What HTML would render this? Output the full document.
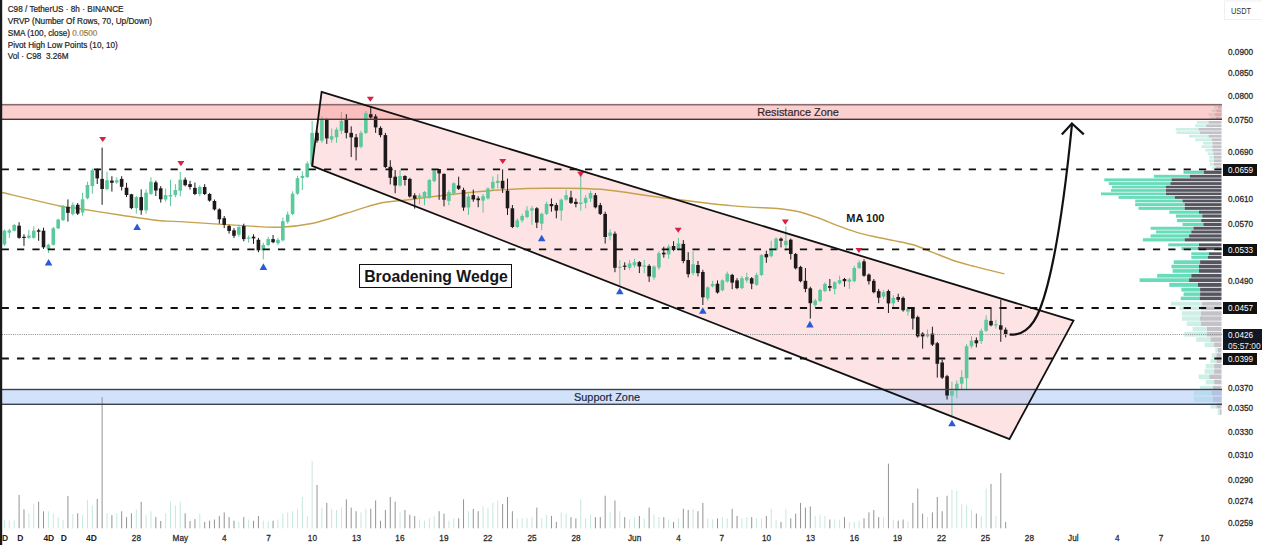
<!DOCTYPE html>
<html><head><meta charset="utf-8"><style>
html,body{margin:0;padding:0;background:#fff;}
body{width:1262px;height:545px;position:relative;overflow:hidden;font-family:"Liberation Sans",sans-serif;}
</style></head><body>
<svg width="1262" height="545" viewBox="0 0 1262 545" style="position:absolute;left:0;top:0">
<defs><clipPath id="cc"><rect x="0" y="0" width="1222" height="528"/></clipPath></defs>
<rect x="0" y="0" width="1262" height="545" fill="#fff"/>
<rect x="1214" y="105.5" width="4" height="3.1" fill="#cdf0e6"/>
<rect x="1218" y="105.5" width="3.5" height="3.1" fill="#c2c2c8"/>
<rect x="1211.6" y="109.35" width="4.7" height="3" fill="#cdf0e6"/>
<rect x="1216.3" y="109.35" width="5.2" height="3" fill="#c2c2c8"/>
<rect x="1208.5" y="113.15" width="6.2" height="2.8" fill="#cdf0e6"/>
<rect x="1214.7" y="113.15" width="6.8" height="2.8" fill="#c2c2c8"/>
<rect x="1210" y="116.65" width="6" height="2.8" fill="#cdf0e6"/>
<rect x="1216" y="116.65" width="5.5" height="2.8" fill="#c2c2c8"/>
<rect x="1196.8" y="121" width="11.7" height="2.7" fill="#cdf0e6"/>
<rect x="1208.5" y="121" width="13" height="2.7" fill="#c2c2c8"/>
<rect x="1195.2" y="124.4" width="11" height="2.7" fill="#cdf0e6"/>
<rect x="1206.2" y="124.4" width="15.3" height="2.7" fill="#c2c2c8"/>
<rect x="1175.7" y="127.9" width="22.7" height="2.7" fill="#cdf0e6"/>
<rect x="1198.4" y="127.9" width="23.1" height="2.7" fill="#c2c2c8"/>
<rect x="1176.5" y="131.3" width="23.5" height="2.7" fill="#cdf0e6"/>
<rect x="1200" y="131.3" width="21.5" height="2.7" fill="#c2c2c8"/>
<rect x="1189" y="134.75" width="19.5" height="2.8" fill="#cdf0e6"/>
<rect x="1208.5" y="134.75" width="13" height="2.8" fill="#c2c2c8"/>
<rect x="1195.2" y="138.35" width="16.4" height="2.8" fill="#cdf0e6"/>
<rect x="1211.6" y="138.35" width="9.9" height="2.8" fill="#c2c2c8"/>
<rect x="1203" y="141.9" width="9.4" height="2.7" fill="#cdf0e6"/>
<rect x="1212.4" y="141.9" width="9.1" height="2.7" fill="#c2c2c8"/>
<rect x="1201.5" y="145.3" width="10.9" height="2.7" fill="#cdf0e6"/>
<rect x="1212.4" y="145.3" width="9.1" height="2.7" fill="#c2c2c8"/>
<rect x="1205.4" y="148.75" width="7" height="2.8" fill="#cdf0e6"/>
<rect x="1212.4" y="148.75" width="9.1" height="2.8" fill="#c2c2c8"/>
<rect x="1207.7" y="152.35" width="5.5" height="2.8" fill="#cdf0e6"/>
<rect x="1213.2" y="152.35" width="8.3" height="2.8" fill="#c2c2c8"/>
<rect x="1209.3" y="155.85" width="4.7" height="2.8" fill="#cdf0e6"/>
<rect x="1214" y="155.85" width="7.5" height="2.8" fill="#c2c2c8"/>
<rect x="1209.3" y="159.35" width="4.7" height="2.8" fill="#cdf0e6"/>
<rect x="1214" y="159.35" width="7.5" height="2.8" fill="#c2c2c8"/>
<rect x="1210" y="162.85" width="4" height="2.8" fill="#cdf0e6"/>
<rect x="1214" y="162.85" width="7.5" height="2.8" fill="#c2c2c8"/>
<rect x="1212.4" y="166.4" width="3.1" height="2.9" fill="#cdf0e6"/>
<rect x="1215.5" y="166.4" width="6" height="2.9" fill="#c2c2c8"/>
<rect x="1183.5" y="170.6" width="20.3" height="3.3" fill="#66dcb8"/>
<rect x="1203.8" y="170.6" width="17.7" height="3.3" fill="#55555f"/>
<rect x="1153.9" y="174.8" width="35.9" height="2.9" fill="#66dcb8"/>
<rect x="1189.8" y="174.8" width="31.7" height="2.9" fill="#55555f"/>
<rect x="1104.3" y="178.4" width="67.2" height="2.9" fill="#66dcb8"/>
<rect x="1171.5" y="178.4" width="50" height="2.9" fill="#55555f"/>
<rect x="1108.7" y="182.15" width="61.7" height="2.8" fill="#66dcb8"/>
<rect x="1170.4" y="182.15" width="51.1" height="2.8" fill="#55555f"/>
<rect x="1112" y="185.7" width="54" height="2.7" fill="#66dcb8"/>
<rect x="1166" y="185.7" width="55.5" height="2.7" fill="#55555f"/>
<rect x="1110.9" y="189.1" width="55.1" height="2.7" fill="#66dcb8"/>
<rect x="1166" y="189.1" width="55.5" height="2.7" fill="#55555f"/>
<rect x="1101" y="192.5" width="65" height="2.7" fill="#66dcb8"/>
<rect x="1166" y="192.5" width="55.5" height="2.7" fill="#55555f"/>
<rect x="1118.6" y="196.05" width="56.2" height="2.8" fill="#66dcb8"/>
<rect x="1174.8" y="196.05" width="46.7" height="2.8" fill="#55555f"/>
<rect x="1135.2" y="199.55" width="47.3" height="2.8" fill="#66dcb8"/>
<rect x="1182.5" y="199.55" width="39" height="2.8" fill="#55555f"/>
<rect x="1135.2" y="203.15" width="49.5" height="3" fill="#66dcb8"/>
<rect x="1184.7" y="203.15" width="36.8" height="3" fill="#55555f"/>
<rect x="1138.5" y="206.85" width="46.2" height="3" fill="#66dcb8"/>
<rect x="1184.7" y="206.85" width="36.8" height="3" fill="#55555f"/>
<rect x="1169.3" y="210.6" width="29.7" height="3.1" fill="#66dcb8"/>
<rect x="1199" y="210.6" width="22.5" height="3.1" fill="#55555f"/>
<rect x="1175.9" y="214.45" width="26.4" height="3.2" fill="#66dcb8"/>
<rect x="1202.3" y="214.45" width="19.2" height="3.2" fill="#55555f"/>
<rect x="1177" y="218.95" width="24.2" height="3.2" fill="#66dcb8"/>
<rect x="1201.2" y="218.95" width="20.3" height="3.2" fill="#55555f"/>
<rect x="1182.5" y="222.9" width="20.9" height="3.1" fill="#66dcb8"/>
<rect x="1203.4" y="222.9" width="18.1" height="3.1" fill="#55555f"/>
<rect x="1150.6" y="226.75" width="42.9" height="3" fill="#66dcb8"/>
<rect x="1193.5" y="226.75" width="28" height="3" fill="#55555f"/>
<rect x="1156.1" y="230.45" width="35.2" height="3" fill="#66dcb8"/>
<rect x="1191.3" y="230.45" width="30.2" height="3" fill="#55555f"/>
<rect x="1150.6" y="234.35" width="38.5" height="3.2" fill="#66dcb8"/>
<rect x="1189.1" y="234.35" width="32.4" height="3.2" fill="#55555f"/>
<rect x="1142.9" y="238.25" width="41.8" height="3.2" fill="#66dcb8"/>
<rect x="1184.7" y="238.25" width="36.8" height="3.2" fill="#55555f"/>
<rect x="1168.2" y="243.35" width="30.8" height="3" fill="#66dcb8"/>
<rect x="1199" y="243.35" width="22.5" height="3" fill="#55555f"/>
<rect x="1181.4" y="247.05" width="16.5" height="3" fill="#66dcb8"/>
<rect x="1197.9" y="247.05" width="23.6" height="3" fill="#55555f"/>
<rect x="1191.3" y="252.3" width="17.6" height="2.9" fill="#66dcb8"/>
<rect x="1208.9" y="252.3" width="12.6" height="2.9" fill="#55555f"/>
<rect x="1191.3" y="255.9" width="16.5" height="2.9" fill="#66dcb8"/>
<rect x="1207.8" y="255.9" width="13.7" height="2.9" fill="#55555f"/>
<rect x="1173.7" y="260.3" width="26.4" height="3.7" fill="#66dcb8"/>
<rect x="1200.1" y="260.3" width="21.4" height="3.7" fill="#55555f"/>
<rect x="1171.5" y="264.7" width="27.5" height="3.7" fill="#66dcb8"/>
<rect x="1199" y="264.7" width="22.5" height="3.7" fill="#55555f"/>
<rect x="1172.6" y="269.1" width="26.4" height="3.7" fill="#66dcb8"/>
<rect x="1199" y="269.1" width="22.5" height="3.7" fill="#55555f"/>
<rect x="1157.2" y="273.9" width="34.1" height="3.7" fill="#66dcb8"/>
<rect x="1191.3" y="273.9" width="30.2" height="3.7" fill="#55555f"/>
<rect x="1139.6" y="278.3" width="49.5" height="3.7" fill="#66dcb8"/>
<rect x="1189.1" y="278.3" width="32.4" height="3.7" fill="#55555f"/>
<rect x="1169.3" y="282.85" width="28.6" height="4" fill="#66dcb8"/>
<rect x="1197.9" y="282.85" width="23.6" height="4" fill="#55555f"/>
<rect x="1181.4" y="287.75" width="18.7" height="3.8" fill="#66dcb8"/>
<rect x="1200.1" y="287.75" width="21.4" height="3.8" fill="#55555f"/>
<rect x="1183.6" y="292.4" width="16.5" height="3.5" fill="#66dcb8"/>
<rect x="1200.1" y="292.4" width="21.4" height="3.5" fill="#55555f"/>
<rect x="1180.7" y="296.6" width="19.1" height="3.5" fill="#66dcb8"/>
<rect x="1199.8" y="296.6" width="21.7" height="3.5" fill="#55555f"/>
<rect x="1171" y="301.85" width="31" height="3.8" fill="#cdf0e6"/>
<rect x="1202" y="301.85" width="19.5" height="3.8" fill="#c2c2c8"/>
<rect x="1179.5" y="306.35" width="21.5" height="3.8" fill="#cdf0e6"/>
<rect x="1201" y="306.35" width="20.5" height="3.8" fill="#c2c2c8"/>
<rect x="1181.9" y="311.25" width="19.1" height="4.4" fill="#cdf0e6"/>
<rect x="1201" y="311.25" width="20.5" height="4.4" fill="#c2c2c8"/>
<rect x="1181.9" y="316.35" width="17.9" height="4.4" fill="#cdf0e6"/>
<rect x="1199.8" y="316.35" width="21.7" height="4.4" fill="#c2c2c8"/>
<rect x="1186.7" y="321.5" width="14.3" height="4.5" fill="#cdf0e6"/>
<rect x="1201" y="321.5" width="20.5" height="4.5" fill="#c2c2c8"/>
<rect x="1192.6" y="326.8" width="14.3" height="4.5" fill="#cdf0e6"/>
<rect x="1206.9" y="326.8" width="14.6" height="4.5" fill="#c2c2c8"/>
<rect x="1184.3" y="332" width="22.6" height="4.5" fill="#cdf0e6"/>
<rect x="1206.9" y="332" width="14.6" height="4.5" fill="#c2c2c8"/>
<rect x="1196.2" y="337.25" width="14.3" height="4.6" fill="#cdf0e6"/>
<rect x="1210.5" y="337.25" width="11" height="4.6" fill="#c2c2c8"/>
<rect x="1204.6" y="342.55" width="9.5" height="4.6" fill="#cdf0e6"/>
<rect x="1214.1" y="342.55" width="7.4" height="4.6" fill="#c2c2c8"/>
<rect x="1215.3" y="347.95" width="2.4" height="4.6" fill="#cdf0e6"/>
<rect x="1217.7" y="347.95" width="3.8" height="4.6" fill="#c2c2c8"/>
<rect x="1211.7" y="353.25" width="4.8" height="4.6" fill="#cdf0e6"/>
<rect x="1216.5" y="353.25" width="5" height="4.6" fill="#c2c2c8"/>
<rect x="1210.5" y="358.55" width="6" height="4.6" fill="#cdf0e6"/>
<rect x="1216.5" y="358.55" width="5" height="4.6" fill="#c2c2c8"/>
<rect x="1205.7" y="363.95" width="8.4" height="4.6" fill="#cdf0e6"/>
<rect x="1214.1" y="363.95" width="7.4" height="4.6" fill="#c2c2c8"/>
<rect x="1204.6" y="369.3" width="9.5" height="4.5" fill="#cdf0e6"/>
<rect x="1214.1" y="369.3" width="7.4" height="4.5" fill="#c2c2c8"/>
<rect x="1198.6" y="374.5" width="10.7" height="4.5" fill="#cdf0e6"/>
<rect x="1209.3" y="374.5" width="12.2" height="4.5" fill="#c2c2c8"/>
<rect x="1205.7" y="379.75" width="8.4" height="4.6" fill="#cdf0e6"/>
<rect x="1214.1" y="379.75" width="7.4" height="4.6" fill="#c2c2c8"/>
<rect x="1200" y="385.8" width="13" height="4.5" fill="#cdf0e6"/>
<rect x="1213" y="385.8" width="8.5" height="4.5" fill="#c2c2c8"/>
<rect x="1193.8" y="391" width="17.9" height="4.5" fill="#cdf0e6"/>
<rect x="1211.7" y="391" width="9.8" height="4.5" fill="#c2c2c8"/>
<rect x="1193.8" y="396.6" width="19.1" height="5.3" fill="#cdf0e6"/>
<rect x="1212.9" y="396.6" width="8.6" height="5.3" fill="#c2c2c8"/>
<rect x="1210.5" y="402.8" width="6" height="5.7" fill="#cdf0e6"/>
<rect x="1216.5" y="402.8" width="5" height="5.7" fill="#c2c2c8"/>
<rect x="1217.7" y="409.2" width="2.3" height="5.7" fill="#cdf0e6"/>
<rect x="1220" y="409.2" width="1.5" height="5.7" fill="#c2c2c8"/>
<polygon points="321.6,91.8 1073.5,320.6 1009.5,439 312.1,165.9" fill="rgba(240,70,70,0.15)"/>
<rect x="0" y="104.5" width="1222" height="14.8" fill="rgba(247,135,135,0.4)"/>
<rect x="0" y="389.5" width="1222" height="14.8" fill="rgba(165,197,247,0.5)"/>
<rect x="3.94" y="520.3" width="1" height="8" fill="#c6e8de"/>
<rect x="8.82" y="520.3" width="1" height="8" fill="#c6e8de"/>
<rect x="13.71" y="520.3" width="1" height="8" fill="#c6e8de"/>
<rect x="18.59" y="494.97" width="1" height="33.33" fill="#949494"/>
<rect x="23.48" y="509.42" width="1" height="18.88" fill="#949494"/>
<rect x="28.36" y="513.27" width="1" height="15.03" fill="#c6e8de"/>
<rect x="33.24" y="503.64" width="1" height="24.66" fill="#c6e8de"/>
<rect x="38.13" y="501.71" width="1" height="26.59" fill="#949494"/>
<rect x="43.01" y="511.34" width="1" height="16.96" fill="#949494"/>
<rect x="47.9" y="511.34" width="1" height="16.96" fill="#c6e8de"/>
<rect x="52.78" y="513.27" width="1" height="15.03" fill="#c6e8de"/>
<rect x="57.66" y="517.12" width="1" height="11.18" fill="#c6e8de"/>
<rect x="62.55" y="520.3" width="1" height="8" fill="#c6e8de"/>
<rect x="67.43" y="495.93" width="1" height="32.37" fill="#949494"/>
<rect x="72.32" y="514.23" width="1" height="14.07" fill="#c6e8de"/>
<rect x="77.2" y="513.27" width="1" height="15.03" fill="#949494"/>
<rect x="82.08" y="515.2" width="1" height="13.1" fill="#c6e8de"/>
<rect x="86.97" y="499.78" width="1" height="28.52" fill="#c6e8de"/>
<rect x="91.85" y="505.56" width="1" height="22.74" fill="#c6e8de"/>
<rect x="96.74" y="498.82" width="1" height="29.48" fill="#949494"/>
<rect x="101.62" y="397.1" width="1" height="131.2" fill="#949494"/>
<rect x="106.5" y="513.27" width="1" height="15.03" fill="#c6e8de"/>
<rect x="111.39" y="515.2" width="1" height="13.1" fill="#949494"/>
<rect x="116.27" y="513.27" width="1" height="15.03" fill="#c6e8de"/>
<rect x="121.16" y="511.34" width="1" height="16.96" fill="#949494"/>
<rect x="126.04" y="517.12" width="1" height="11.18" fill="#949494"/>
<rect x="130.92" y="513.27" width="1" height="15.03" fill="#949494"/>
<rect x="135.81" y="509.42" width="1" height="18.88" fill="#c6e8de"/>
<rect x="140.69" y="501.71" width="1" height="26.59" fill="#949494"/>
<rect x="145.58" y="515.2" width="1" height="13.1" fill="#c6e8de"/>
<rect x="150.46" y="511.34" width="1" height="16.96" fill="#c6e8de"/>
<rect x="155.34" y="517.12" width="1" height="11.18" fill="#949494"/>
<rect x="160.23" y="520.98" width="1" height="7.32" fill="#949494"/>
<rect x="165.11" y="513.27" width="1" height="15.03" fill="#c6e8de"/>
<rect x="170" y="501.71" width="1" height="26.59" fill="#c6e8de"/>
<rect x="174.88" y="505.56" width="1" height="22.74" fill="#c6e8de"/>
<rect x="179.76" y="501.71" width="1" height="26.59" fill="#c6e8de"/>
<rect x="184.65" y="513.27" width="1" height="15.03" fill="#949494"/>
<rect x="189.53" y="520.98" width="1" height="7.32" fill="#949494"/>
<rect x="194.42" y="519.05" width="1" height="9.25" fill="#949494"/>
<rect x="199.3" y="513.56" width="1" height="14.74" fill="#c6e8de"/>
<rect x="204.18" y="521.88" width="1" height="6.42" fill="#949494"/>
<rect x="209.07" y="520.69" width="1" height="7.61" fill="#949494"/>
<rect x="213.95" y="519.51" width="1" height="8.79" fill="#949494"/>
<rect x="218.84" y="515.94" width="1" height="12.36" fill="#949494"/>
<rect x="223.72" y="512.37" width="1" height="15.93" fill="#949494"/>
<rect x="228.6" y="517.13" width="1" height="11.17" fill="#949494"/>
<rect x="233.49" y="520.69" width="1" height="7.61" fill="#949494"/>
<rect x="238.37" y="521.88" width="1" height="6.42" fill="#c6e8de"/>
<rect x="243.26" y="517.13" width="1" height="11.17" fill="#949494"/>
<rect x="248.14" y="519.51" width="1" height="8.79" fill="#c6e8de"/>
<rect x="253.02" y="520.69" width="1" height="7.61" fill="#949494"/>
<rect x="257.91" y="515.94" width="1" height="12.36" fill="#949494"/>
<rect x="262.79" y="520.69" width="1" height="7.61" fill="#c6e8de"/>
<rect x="267.68" y="521.88" width="1" height="6.42" fill="#c6e8de"/>
<rect x="272.56" y="520.69" width="1" height="7.61" fill="#949494"/>
<rect x="277.44" y="519.51" width="1" height="8.79" fill="#c6e8de"/>
<rect x="282.33" y="513.56" width="1" height="14.74" fill="#c6e8de"/>
<rect x="287.21" y="512.37" width="1" height="15.93" fill="#c6e8de"/>
<rect x="292.1" y="511.19" width="1" height="17.11" fill="#c6e8de"/>
<rect x="296.98" y="508.81" width="1" height="19.49" fill="#c6e8de"/>
<rect x="301.86" y="496.92" width="1" height="31.38" fill="#c6e8de"/>
<rect x="306.75" y="515.94" width="1" height="12.36" fill="#c6e8de"/>
<rect x="311.63" y="460.79" width="1" height="67.51" fill="#c6e8de"/>
<rect x="316.52" y="485.04" width="1" height="43.26" fill="#949494"/>
<rect x="321.4" y="507.62" width="1" height="20.68" fill="#c6e8de"/>
<rect x="326.28" y="502.87" width="1" height="25.43" fill="#949494"/>
<rect x="331.17" y="508.81" width="1" height="19.49" fill="#c6e8de"/>
<rect x="336.05" y="510" width="1" height="18.3" fill="#c6e8de"/>
<rect x="340.94" y="507.62" width="1" height="20.68" fill="#c6e8de"/>
<rect x="345.82" y="499.3" width="1" height="29" fill="#949494"/>
<rect x="350.7" y="507.62" width="1" height="20.68" fill="#949494"/>
<rect x="355.59" y="511.19" width="1" height="17.11" fill="#949494"/>
<rect x="360.47" y="512.37" width="1" height="15.93" fill="#c6e8de"/>
<rect x="365.36" y="508.81" width="1" height="19.49" fill="#c6e8de"/>
<rect x="370.24" y="508.81" width="1" height="19.49" fill="#949494"/>
<rect x="375.12" y="500.49" width="1" height="27.81" fill="#949494"/>
<rect x="380.01" y="520.69" width="1" height="7.61" fill="#949494"/>
<rect x="384.89" y="510" width="1" height="18.3" fill="#949494"/>
<rect x="389.78" y="496.92" width="1" height="31.38" fill="#949494"/>
<rect x="394.66" y="501.68" width="1" height="26.62" fill="#949494"/>
<rect x="399.54" y="512.37" width="1" height="15.93" fill="#c6e8de"/>
<rect x="404.43" y="510" width="1" height="18.3" fill="#949494"/>
<rect x="409.31" y="514.75" width="1" height="13.55" fill="#949494"/>
<rect x="414.2" y="515.94" width="1" height="12.36" fill="#949494"/>
<rect x="419.08" y="519.51" width="1" height="8.79" fill="#c6e8de"/>
<rect x="423.96" y="520.69" width="1" height="7.61" fill="#c6e8de"/>
<rect x="428.85" y="518.32" width="1" height="9.98" fill="#c6e8de"/>
<rect x="433.73" y="515.94" width="1" height="12.36" fill="#c6e8de"/>
<rect x="438.62" y="511.19" width="1" height="17.11" fill="#949494"/>
<rect x="443.5" y="513.56" width="1" height="14.74" fill="#949494"/>
<rect x="448.38" y="520.69" width="1" height="7.61" fill="#c6e8de"/>
<rect x="453.27" y="518.32" width="1" height="9.98" fill="#c6e8de"/>
<rect x="458.15" y="518.32" width="1" height="9.98" fill="#949494"/>
<rect x="463.04" y="499.3" width="1" height="29" fill="#949494"/>
<rect x="467.92" y="511.19" width="1" height="17.11" fill="#c6e8de"/>
<rect x="472.8" y="508.81" width="1" height="19.49" fill="#949494"/>
<rect x="477.69" y="511.19" width="1" height="17.11" fill="#949494"/>
<rect x="482.57" y="506.43" width="1" height="21.87" fill="#c6e8de"/>
<rect x="487.46" y="507.62" width="1" height="20.68" fill="#c6e8de"/>
<rect x="492.34" y="502.87" width="1" height="25.43" fill="#c6e8de"/>
<rect x="497.22" y="500.49" width="1" height="27.81" fill="#c6e8de"/>
<rect x="502.11" y="504.05" width="1" height="24.25" fill="#949494"/>
<rect x="506.99" y="496.92" width="1" height="31.38" fill="#949494"/>
<rect x="511.88" y="511.19" width="1" height="17.11" fill="#949494"/>
<rect x="516.76" y="518.32" width="1" height="9.98" fill="#c6e8de"/>
<rect x="521.64" y="518.32" width="1" height="9.98" fill="#c6e8de"/>
<rect x="526.53" y="518.32" width="1" height="9.98" fill="#c6e8de"/>
<rect x="531.41" y="517.13" width="1" height="11.17" fill="#c6e8de"/>
<rect x="536.3" y="507.62" width="1" height="20.68" fill="#949494"/>
<rect x="541.18" y="518.32" width="1" height="9.98" fill="#c6e8de"/>
<rect x="546.06" y="514.75" width="1" height="13.55" fill="#c6e8de"/>
<rect x="550.95" y="515.94" width="1" height="12.36" fill="#949494"/>
<rect x="555.83" y="521.88" width="1" height="6.42" fill="#949494"/>
<rect x="560.72" y="512.37" width="1" height="15.93" fill="#c6e8de"/>
<rect x="565.6" y="513.56" width="1" height="14.74" fill="#c6e8de"/>
<rect x="570.48" y="517.13" width="1" height="11.17" fill="#949494"/>
<rect x="575.37" y="518.32" width="1" height="9.98" fill="#949494"/>
<rect x="580.25" y="499.3" width="1" height="29" fill="#c6e8de"/>
<rect x="585.14" y="518.32" width="1" height="9.98" fill="#c6e8de"/>
<rect x="590.02" y="514.75" width="1" height="13.55" fill="#c6e8de"/>
<rect x="594.9" y="517.13" width="1" height="11.17" fill="#949494"/>
<rect x="599.79" y="517.13" width="1" height="11.17" fill="#949494"/>
<rect x="604.67" y="495.74" width="1" height="32.56" fill="#949494"/>
<rect x="609.56" y="512.37" width="1" height="15.93" fill="#c6e8de"/>
<rect x="614.44" y="500.49" width="1" height="27.81" fill="#949494"/>
<rect x="619.32" y="511.19" width="1" height="17.11" fill="#c6e8de"/>
<rect x="624.21" y="517.13" width="1" height="11.17" fill="#949494"/>
<rect x="629.09" y="519.51" width="1" height="8.79" fill="#c6e8de"/>
<rect x="633.98" y="517.13" width="1" height="11.17" fill="#c6e8de"/>
<rect x="638.86" y="515.94" width="1" height="12.36" fill="#949494"/>
<rect x="643.74" y="518.32" width="1" height="9.98" fill="#c6e8de"/>
<rect x="648.63" y="507.62" width="1" height="20.68" fill="#949494"/>
<rect x="653.51" y="514.75" width="1" height="13.55" fill="#c6e8de"/>
<rect x="658.4" y="517.13" width="1" height="11.17" fill="#c6e8de"/>
<rect x="663.28" y="517.13" width="1" height="11.17" fill="#949494"/>
<rect x="668.16" y="519.51" width="1" height="8.79" fill="#c6e8de"/>
<rect x="673.05" y="521.88" width="1" height="6.42" fill="#949494"/>
<rect x="677.93" y="518.32" width="1" height="9.98" fill="#c6e8de"/>
<rect x="682.82" y="508.81" width="1" height="19.49" fill="#949494"/>
<rect x="687.7" y="510" width="1" height="18.3" fill="#949494"/>
<rect x="692.58" y="508.81" width="1" height="19.49" fill="#c6e8de"/>
<rect x="697.47" y="511.19" width="1" height="17.11" fill="#949494"/>
<rect x="702.35" y="502.87" width="1" height="25.43" fill="#949494"/>
<rect x="707.24" y="518.32" width="1" height="9.98" fill="#c6e8de"/>
<rect x="712.12" y="519.51" width="1" height="8.79" fill="#c6e8de"/>
<rect x="717" y="518.32" width="1" height="9.98" fill="#949494"/>
<rect x="721.89" y="517.13" width="1" height="11.17" fill="#c6e8de"/>
<rect x="726.77" y="518.32" width="1" height="9.98" fill="#c6e8de"/>
<rect x="731.66" y="508.81" width="1" height="19.49" fill="#949494"/>
<rect x="736.54" y="515.94" width="1" height="12.36" fill="#949494"/>
<rect x="741.42" y="518.32" width="1" height="9.98" fill="#c6e8de"/>
<rect x="746.31" y="517.13" width="1" height="11.17" fill="#c6e8de"/>
<rect x="751.19" y="517.13" width="1" height="11.17" fill="#949494"/>
<rect x="756.08" y="518.32" width="1" height="9.98" fill="#c6e8de"/>
<rect x="760.96" y="518.32" width="1" height="9.98" fill="#c6e8de"/>
<rect x="765.84" y="515.94" width="1" height="12.36" fill="#949494"/>
<rect x="770.73" y="508.81" width="1" height="19.49" fill="#c6e8de"/>
<rect x="775.61" y="519.51" width="1" height="8.79" fill="#c6e8de"/>
<rect x="780.5" y="521.88" width="1" height="6.42" fill="#949494"/>
<rect x="785.38" y="508.81" width="1" height="19.49" fill="#c6e8de"/>
<rect x="790.26" y="518.32" width="1" height="9.98" fill="#949494"/>
<rect x="795.15" y="513.56" width="1" height="14.74" fill="#949494"/>
<rect x="800.03" y="502.87" width="1" height="25.43" fill="#949494"/>
<rect x="804.92" y="507.62" width="1" height="20.68" fill="#949494"/>
<rect x="809.8" y="506.43" width="1" height="21.87" fill="#949494"/>
<rect x="814.68" y="515.94" width="1" height="12.36" fill="#c6e8de"/>
<rect x="819.57" y="514.75" width="1" height="13.55" fill="#c6e8de"/>
<rect x="824.45" y="515.94" width="1" height="12.36" fill="#c6e8de"/>
<rect x="829.34" y="519.51" width="1" height="8.79" fill="#949494"/>
<rect x="834.22" y="519.51" width="1" height="8.79" fill="#c6e8de"/>
<rect x="839.1" y="519.51" width="1" height="8.79" fill="#c6e8de"/>
<rect x="843.99" y="517.13" width="1" height="11.17" fill="#949494"/>
<rect x="848.87" y="521.88" width="1" height="6.42" fill="#c6e8de"/>
<rect x="853.76" y="521.88" width="1" height="6.42" fill="#c6e8de"/>
<rect x="858.64" y="520.69" width="1" height="7.61" fill="#c6e8de"/>
<rect x="863.52" y="518.32" width="1" height="9.98" fill="#949494"/>
<rect x="868.41" y="512.37" width="1" height="15.93" fill="#949494"/>
<rect x="873.29" y="510" width="1" height="18.3" fill="#949494"/>
<rect x="878.18" y="517.13" width="1" height="11.17" fill="#949494"/>
<rect x="883.06" y="517.13" width="1" height="11.17" fill="#c6e8de"/>
<rect x="887.94" y="463.65" width="1" height="64.65" fill="#949494"/>
<rect x="892.83" y="519.51" width="1" height="8.79" fill="#c6e8de"/>
<rect x="897.71" y="520.69" width="1" height="7.61" fill="#949494"/>
<rect x="902.6" y="519.51" width="1" height="8.79" fill="#949494"/>
<rect x="907.48" y="521.88" width="1" height="6.42" fill="#c6e8de"/>
<rect x="912.36" y="502.87" width="1" height="25.43" fill="#949494"/>
<rect x="917.25" y="488.6" width="1" height="39.7" fill="#949494"/>
<rect x="922.13" y="513.56" width="1" height="14.74" fill="#949494"/>
<rect x="927.02" y="517.13" width="1" height="11.17" fill="#c6e8de"/>
<rect x="931.9" y="512.37" width="1" height="15.93" fill="#949494"/>
<rect x="936.78" y="496.92" width="1" height="31.38" fill="#949494"/>
<rect x="941.67" y="511.19" width="1" height="17.11" fill="#949494"/>
<rect x="946.55" y="495.74" width="1" height="32.56" fill="#949494"/>
<rect x="951.44" y="489.79" width="1" height="38.51" fill="#c6e8de"/>
<rect x="956.32" y="490.98" width="1" height="37.32" fill="#c6e8de"/>
<rect x="961.2" y="504.05" width="1" height="24.25" fill="#c6e8de"/>
<rect x="966.09" y="505.24" width="1" height="23.06" fill="#c6e8de"/>
<rect x="970.97" y="510" width="1" height="18.3" fill="#c6e8de"/>
<rect x="975.86" y="513.56" width="1" height="14.74" fill="#949494"/>
<rect x="980.74" y="515.94" width="1" height="12.36" fill="#c6e8de"/>
<rect x="985.62" y="488.6" width="1" height="39.7" fill="#c6e8de"/>
<rect x="990.51" y="483.85" width="1" height="44.45" fill="#949494"/>
<rect x="995.39" y="515.94" width="1" height="12.36" fill="#c6e8de"/>
<rect x="1000.28" y="473.15" width="1" height="55.15" fill="#949494"/>
<rect x="1005.16" y="521.88" width="1" height="6.42" fill="#949494"/>
<path d="M0,192 C10,194.33 47.5,203.33 60,206 C72.5,208.67 65,206.5 75,208 C85,209.5 106.17,212.92 120,215 C133.83,217.08 148,219.4 158,220.5 C168,221.6 165.23,220.7 180,221.6 C194.77,222.5 229.97,224.97 246.6,225.9 C263.23,226.83 268.72,227.65 279.8,227.2 C290.88,226.75 302,225.52 313.1,223.2 C324.2,220.88 335.3,216.62 346.4,213.3 C357.5,209.98 369.72,205.52 379.7,203.3 C389.68,201.08 395.22,201.38 406.3,200 C417.38,198.62 430.67,196.67 446.2,195 C461.73,193.33 482.87,191.12 499.5,190 C516.13,188.88 529.25,188.42 546,188.3 C562.75,188.18 579.9,187.63 600,189.3 C620.1,190.97 644.43,195.53 666.6,198.3 C688.77,201.07 714.1,204.17 733,205.9 C751.9,207.63 769,207.73 780,208.7 C791,209.67 792.67,210.18 799,211.7 C805.33,213.22 811.67,215.52 818,217.8 C824.33,220.08 830.65,223.02 837,225.4 C843.35,227.78 849.75,230.2 856.1,232.1 C862.45,234 868.77,235.38 875.1,236.8 C881.43,238.22 887.77,239.27 894.1,240.6 C900.43,241.93 906.77,242.88 913.1,244.8 C919.43,246.72 925.75,249.62 932.1,252.1 C938.45,254.58 944.85,257.48 951.2,259.7 C957.55,261.92 963.87,263.67 970.2,265.4 C976.53,267.13 983.5,268.68 989.2,270.1 C994.9,271.52 1001.87,273.27 1004.4,273.9" fill="none" stroke="#c6a24e" stroke-width="1.45"/>
<rect x="3.94" y="229.5" width="1" height="16.5" fill="#5cc89c"/>
<rect x="2.64" y="230.7" width="3.6" height="13.7" fill="#5cc89c"/>
<rect x="8.82" y="228.7" width="1" height="9.1" fill="#5cc89c"/>
<rect x="7.52" y="230.3" width="3.6" height="2.4" fill="#5cc89c"/>
<rect x="13.71" y="224" width="1" height="7.5" fill="#5cc89c"/>
<rect x="12.41" y="225" width="3.6" height="5.7" fill="#5cc89c"/>
<rect x="18.59" y="222.2" width="1" height="16.6" fill="#1e1a1c"/>
<rect x="17.29" y="225.7" width="3.6" height="12.1" fill="#1e1a1c"/>
<rect x="23.48" y="234.3" width="1" height="11.6" fill="#1e1a1c"/>
<rect x="22.18" y="236.8" width="3.6" height="1.2" fill="#1e1a1c"/>
<rect x="28.36" y="229.7" width="1" height="9.1" fill="#5cc89c"/>
<rect x="27.06" y="235.5" width="3.6" height="2.3" fill="#5cc89c"/>
<rect x="33.24" y="226.3" width="1" height="12.5" fill="#5cc89c"/>
<rect x="31.94" y="230.7" width="3.6" height="7.1" fill="#5cc89c"/>
<rect x="38.13" y="228.7" width="1" height="12.1" fill="#1e1a1c"/>
<rect x="36.83" y="230.3" width="3.6" height="1.4" fill="#1e1a1c"/>
<rect x="43.01" y="227.7" width="1" height="21.2" fill="#1e1a1c"/>
<rect x="41.71" y="230.7" width="3.6" height="16.6" fill="#1e1a1c"/>
<rect x="47.9" y="243.8" width="1" height="9.2" fill="#5cc89c"/>
<rect x="46.6" y="244.8" width="3.6" height="4.1" fill="#5cc89c"/>
<rect x="52.78" y="227" width="1" height="18.5" fill="#5cc89c"/>
<rect x="51.48" y="228.3" width="3.6" height="16.5" fill="#5cc89c"/>
<rect x="57.66" y="218.5" width="1" height="10.5" fill="#5cc89c"/>
<rect x="56.36" y="219.6" width="3.6" height="8.7" fill="#5cc89c"/>
<rect x="62.55" y="205" width="1" height="16" fill="#5cc89c"/>
<rect x="61.25" y="206" width="3.6" height="14.2" fill="#5cc89c"/>
<rect x="67.43" y="199.4" width="1" height="22.2" fill="#1e1a1c"/>
<rect x="66.13" y="206.9" width="3.6" height="6" fill="#1e1a1c"/>
<rect x="72.32" y="202.4" width="1" height="13.1" fill="#5cc89c"/>
<rect x="71.02" y="204.8" width="3.6" height="9.3" fill="#5cc89c"/>
<rect x="77.2" y="203" width="1" height="12" fill="#1e1a1c"/>
<rect x="75.9" y="204.8" width="3.6" height="8.8" fill="#1e1a1c"/>
<rect x="82.08" y="192.7" width="1" height="23.1" fill="#5cc89c"/>
<rect x="80.78" y="199.3" width="3.6" height="13.2" fill="#5cc89c"/>
<rect x="86.97" y="181.7" width="1" height="17.6" fill="#5cc89c"/>
<rect x="85.67" y="185" width="3.6" height="13.2" fill="#5cc89c"/>
<rect x="91.85" y="168.5" width="1" height="25.3" fill="#5cc89c"/>
<rect x="90.55" y="170.3" width="3.6" height="15.8" fill="#5cc89c"/>
<rect x="96.74" y="168.5" width="1" height="15.5" fill="#1e1a1c"/>
<rect x="95.44" y="169.6" width="3.6" height="8.8" fill="#1e1a1c"/>
<rect x="101.62" y="147.6" width="1" height="57.2" fill="#1e1a1c"/>
<rect x="100.32" y="178.9" width="3.6" height="10.1" fill="#1e1a1c"/>
<rect x="106.5" y="171.8" width="1" height="18.7" fill="#5cc89c"/>
<rect x="105.2" y="180.2" width="3.6" height="8.8" fill="#5cc89c"/>
<rect x="111.39" y="176.2" width="1" height="15.4" fill="#1e1a1c"/>
<rect x="110.09" y="180.6" width="3.6" height="2.2" fill="#1e1a1c"/>
<rect x="116.27" y="177.3" width="1" height="6.6" fill="#5cc89c"/>
<rect x="114.97" y="180.2" width="3.6" height="2.2" fill="#5cc89c"/>
<rect x="121.16" y="176.2" width="1" height="14.3" fill="#1e1a1c"/>
<rect x="119.86" y="178.9" width="3.6" height="7.9" fill="#1e1a1c"/>
<rect x="126.04" y="182.8" width="1" height="14.3" fill="#1e1a1c"/>
<rect x="124.74" y="187.7" width="3.6" height="7.3" fill="#1e1a1c"/>
<rect x="130.92" y="193.8" width="1" height="15.4" fill="#1e1a1c"/>
<rect x="129.62" y="194.3" width="3.6" height="13.8" fill="#1e1a1c"/>
<rect x="135.81" y="196" width="1" height="17.6" fill="#5cc89c"/>
<rect x="134.51" y="197.1" width="3.6" height="11" fill="#5cc89c"/>
<rect x="140.69" y="189.4" width="1" height="25.3" fill="#1e1a1c"/>
<rect x="139.39" y="197.1" width="3.6" height="13.2" fill="#1e1a1c"/>
<rect x="145.58" y="189.4" width="1" height="24.2" fill="#5cc89c"/>
<rect x="144.28" y="192.7" width="3.6" height="17.6" fill="#5cc89c"/>
<rect x="150.46" y="177.3" width="1" height="17.7" fill="#5cc89c"/>
<rect x="149.16" y="181.7" width="3.6" height="12.1" fill="#5cc89c"/>
<rect x="155.34" y="180.6" width="1" height="15.4" fill="#1e1a1c"/>
<rect x="154.04" y="182.4" width="3.6" height="8.1" fill="#1e1a1c"/>
<rect x="160.23" y="186.1" width="1" height="16.5" fill="#1e1a1c"/>
<rect x="158.93" y="188.3" width="3.6" height="11" fill="#1e1a1c"/>
<rect x="165.11" y="188.5" width="1" height="13.2" fill="#5cc89c"/>
<rect x="163.81" y="195.1" width="3.6" height="4.4" fill="#5cc89c"/>
<rect x="170" y="179.7" width="1" height="26.4" fill="#5cc89c"/>
<rect x="168.7" y="195" width="3.6" height="1.5" fill="#5cc89c"/>
<rect x="174.88" y="184.1" width="1" height="13.2" fill="#5cc89c"/>
<rect x="173.58" y="190" width="3.6" height="5.1" fill="#5cc89c"/>
<rect x="179.76" y="172" width="1" height="24.2" fill="#5cc89c"/>
<rect x="178.46" y="179.7" width="3.6" height="11" fill="#5cc89c"/>
<rect x="184.65" y="177.5" width="1" height="8.8" fill="#1e1a1c"/>
<rect x="183.35" y="179.7" width="3.6" height="5.5" fill="#1e1a1c"/>
<rect x="189.53" y="180.8" width="1" height="8.8" fill="#1e1a1c"/>
<rect x="188.23" y="184.1" width="3.6" height="2.9" fill="#1e1a1c"/>
<rect x="194.42" y="182.6" width="1" height="12.5" fill="#1e1a1c"/>
<rect x="193.12" y="187.9" width="3.6" height="6.1" fill="#1e1a1c"/>
<rect x="199.3" y="185.2" width="1" height="11" fill="#5cc89c"/>
<rect x="198" y="187" width="3.6" height="7" fill="#5cc89c"/>
<rect x="204.18" y="184.1" width="1" height="11" fill="#1e1a1c"/>
<rect x="202.88" y="187" width="3.6" height="7" fill="#1e1a1c"/>
<rect x="209.07" y="192.9" width="1" height="8.8" fill="#1e1a1c"/>
<rect x="207.77" y="194" width="3.6" height="6.6" fill="#1e1a1c"/>
<rect x="213.95" y="199.5" width="1" height="11" fill="#1e1a1c"/>
<rect x="212.65" y="201" width="3.6" height="8.4" fill="#1e1a1c"/>
<rect x="218.84" y="208.3" width="1" height="15.4" fill="#1e1a1c"/>
<rect x="217.54" y="209.4" width="3.6" height="9.9" fill="#1e1a1c"/>
<rect x="223.72" y="216" width="1" height="12.1" fill="#1e1a1c"/>
<rect x="222.42" y="218.2" width="3.6" height="6.6" fill="#1e1a1c"/>
<rect x="228.6" y="224.8" width="1" height="8.8" fill="#1e1a1c"/>
<rect x="227.3" y="226" width="3.6" height="5" fill="#1e1a1c"/>
<rect x="233.49" y="228.1" width="1" height="9.9" fill="#1e1a1c"/>
<rect x="232.19" y="230.3" width="3.6" height="5.5" fill="#1e1a1c"/>
<rect x="238.37" y="224.8" width="1" height="12.1" fill="#5cc89c"/>
<rect x="237.07" y="227" width="3.6" height="7.7" fill="#5cc89c"/>
<rect x="243.26" y="223.7" width="1" height="17.6" fill="#1e1a1c"/>
<rect x="241.96" y="226" width="3.6" height="13.1" fill="#1e1a1c"/>
<rect x="248.14" y="235.5" width="1" height="7.2" fill="#5cc89c"/>
<rect x="246.84" y="237.5" width="3.6" height="1.2" fill="#5cc89c"/>
<rect x="253.02" y="234.3" width="1" height="9.6" fill="#1e1a1c"/>
<rect x="251.72" y="236.7" width="3.6" height="1.7" fill="#1e1a1c"/>
<rect x="257.91" y="237.9" width="1" height="14.3" fill="#1e1a1c"/>
<rect x="256.61" y="239.8" width="3.6" height="10.5" fill="#1e1a1c"/>
<rect x="262.79" y="242.7" width="1" height="16.7" fill="#5cc89c"/>
<rect x="261.49" y="245" width="3.6" height="5.3" fill="#5cc89c"/>
<rect x="267.68" y="236.7" width="1" height="9.6" fill="#5cc89c"/>
<rect x="266.38" y="239.1" width="3.6" height="5.9" fill="#5cc89c"/>
<rect x="272.56" y="235" width="1" height="8.2" fill="#1e1a1c"/>
<rect x="271.26" y="239.1" width="3.6" height="3.1" fill="#1e1a1c"/>
<rect x="277.44" y="237.9" width="1" height="7.1" fill="#5cc89c"/>
<rect x="276.14" y="239.8" width="3.6" height="3.4" fill="#5cc89c"/>
<rect x="282.33" y="217.6" width="1" height="23.9" fill="#5cc89c"/>
<rect x="281.03" y="221.2" width="3.6" height="19.1" fill="#5cc89c"/>
<rect x="287.21" y="211.6" width="1" height="12" fill="#5cc89c"/>
<rect x="285.91" y="214.5" width="3.6" height="7.2" fill="#5cc89c"/>
<rect x="292.1" y="191.3" width="1" height="23.9" fill="#5cc89c"/>
<rect x="290.8" y="193.7" width="3.6" height="20.3" fill="#5cc89c"/>
<rect x="296.98" y="175.8" width="1" height="19.1" fill="#5cc89c"/>
<rect x="295.68" y="178.2" width="3.6" height="15.5" fill="#5cc89c"/>
<rect x="301.86" y="171.4" width="1" height="18.6" fill="#5cc89c"/>
<rect x="300.56" y="176" width="3.6" height="2" fill="#5cc89c"/>
<rect x="306.75" y="161.5" width="1" height="16.5" fill="#5cc89c"/>
<rect x="305.45" y="163.5" width="3.6" height="13.5" fill="#5cc89c"/>
<rect x="311.63" y="120.8" width="1" height="45.1" fill="#5cc89c"/>
<rect x="310.33" y="132.9" width="3.6" height="31.9" fill="#5cc89c"/>
<rect x="316.52" y="130.7" width="1" height="12.1" fill="#1e1a1c"/>
<rect x="315.22" y="132.9" width="3.6" height="7.7" fill="#1e1a1c"/>
<rect x="321.4" y="116.4" width="1" height="26.4" fill="#5cc89c"/>
<rect x="320.1" y="119.7" width="3.6" height="20.9" fill="#5cc89c"/>
<rect x="326.28" y="118.6" width="1" height="25.3" fill="#1e1a1c"/>
<rect x="324.98" y="119.7" width="3.6" height="18.7" fill="#1e1a1c"/>
<rect x="331.17" y="128.5" width="1" height="14.3" fill="#5cc89c"/>
<rect x="329.87" y="136.2" width="3.6" height="3.3" fill="#5cc89c"/>
<rect x="336.05" y="127.4" width="1" height="15.4" fill="#5cc89c"/>
<rect x="334.75" y="129.6" width="3.6" height="7.7" fill="#5cc89c"/>
<rect x="340.94" y="112" width="1" height="22" fill="#5cc89c"/>
<rect x="339.64" y="120.8" width="3.6" height="9.9" fill="#5cc89c"/>
<rect x="345.82" y="114.2" width="1" height="24.2" fill="#1e1a1c"/>
<rect x="344.52" y="119.7" width="3.6" height="13.2" fill="#1e1a1c"/>
<rect x="350.7" y="126.3" width="1" height="30.8" fill="#1e1a1c"/>
<rect x="349.4" y="132.9" width="3.6" height="4.4" fill="#1e1a1c"/>
<rect x="355.59" y="134" width="1" height="26.4" fill="#1e1a1c"/>
<rect x="354.29" y="137.3" width="3.6" height="9.9" fill="#1e1a1c"/>
<rect x="360.47" y="130.7" width="1" height="17.6" fill="#5cc89c"/>
<rect x="359.17" y="132.9" width="3.6" height="13.9" fill="#5cc89c"/>
<rect x="365.36" y="110.9" width="1" height="23.1" fill="#5cc89c"/>
<rect x="364.06" y="113.1" width="3.6" height="19.8" fill="#5cc89c"/>
<rect x="370.24" y="106.5" width="1" height="12.1" fill="#1e1a1c"/>
<rect x="368.94" y="114.2" width="3.6" height="3.3" fill="#1e1a1c"/>
<rect x="375.12" y="114.2" width="1" height="18.7" fill="#1e1a1c"/>
<rect x="373.82" y="116.4" width="3.6" height="11" fill="#1e1a1c"/>
<rect x="380.01" y="126.3" width="1" height="11" fill="#1e1a1c"/>
<rect x="378.71" y="127.9" width="3.6" height="7.2" fill="#1e1a1c"/>
<rect x="384.89" y="132.9" width="1" height="35.1" fill="#1e1a1c"/>
<rect x="383.59" y="135.1" width="3.6" height="31.9" fill="#1e1a1c"/>
<rect x="389.78" y="160.2" width="1" height="24.2" fill="#1e1a1c"/>
<rect x="388.48" y="166.8" width="3.6" height="11" fill="#1e1a1c"/>
<rect x="394.66" y="170" width="1" height="23.2" fill="#1e1a1c"/>
<rect x="393.36" y="176.7" width="3.6" height="8.8" fill="#1e1a1c"/>
<rect x="399.54" y="170.1" width="1" height="16.5" fill="#5cc89c"/>
<rect x="398.24" y="176" width="3.6" height="9.5" fill="#5cc89c"/>
<rect x="404.43" y="175.2" width="1" height="10.3" fill="#1e1a1c"/>
<rect x="403.13" y="176" width="3.6" height="4" fill="#1e1a1c"/>
<rect x="409.31" y="177.8" width="1" height="19.8" fill="#1e1a1c"/>
<rect x="408.01" y="178.9" width="3.6" height="17.6" fill="#1e1a1c"/>
<rect x="414.2" y="193.2" width="1" height="15.4" fill="#1e1a1c"/>
<rect x="412.9" y="195.4" width="3.6" height="3.3" fill="#1e1a1c"/>
<rect x="419.08" y="193.2" width="1" height="11" fill="#5cc89c"/>
<rect x="417.78" y="195.4" width="3.6" height="2.2" fill="#5cc89c"/>
<rect x="423.96" y="191" width="1" height="14.3" fill="#5cc89c"/>
<rect x="422.66" y="192" width="3.6" height="5.6" fill="#5cc89c"/>
<rect x="428.85" y="178.9" width="1" height="19.8" fill="#5cc89c"/>
<rect x="427.55" y="180" width="3.6" height="17.6" fill="#5cc89c"/>
<rect x="433.73" y="169" width="1" height="13.2" fill="#5cc89c"/>
<rect x="432.43" y="170.1" width="3.6" height="11" fill="#5cc89c"/>
<rect x="438.62" y="169" width="1" height="30.8" fill="#1e1a1c"/>
<rect x="437.32" y="169" width="3.6" height="4.4" fill="#1e1a1c"/>
<rect x="443.5" y="173.4" width="1" height="33" fill="#1e1a1c"/>
<rect x="442.2" y="173.9" width="3.6" height="25.9" fill="#1e1a1c"/>
<rect x="448.38" y="189.9" width="1" height="15.4" fill="#5cc89c"/>
<rect x="447.08" y="192.1" width="3.6" height="8.8" fill="#5cc89c"/>
<rect x="453.27" y="182.2" width="1" height="13.2" fill="#5cc89c"/>
<rect x="451.97" y="183.3" width="3.6" height="9.9" fill="#5cc89c"/>
<rect x="458.15" y="176.7" width="1" height="13.3" fill="#1e1a1c"/>
<rect x="456.85" y="185.5" width="3.6" height="3.3" fill="#1e1a1c"/>
<rect x="463.04" y="187.7" width="1" height="23.1" fill="#1e1a1c"/>
<rect x="461.74" y="189.9" width="3.6" height="17.6" fill="#1e1a1c"/>
<rect x="467.92" y="194" width="1" height="21" fill="#5cc89c"/>
<rect x="466.62" y="196.5" width="3.6" height="11" fill="#5cc89c"/>
<rect x="472.8" y="189.6" width="1" height="12.1" fill="#1e1a1c"/>
<rect x="471.5" y="195.1" width="3.6" height="4.4" fill="#1e1a1c"/>
<rect x="477.69" y="196.2" width="1" height="11" fill="#1e1a1c"/>
<rect x="476.39" y="198.4" width="3.6" height="1.8" fill="#1e1a1c"/>
<rect x="482.57" y="194" width="1" height="18.7" fill="#5cc89c"/>
<rect x="481.27" y="196.2" width="3.6" height="4.4" fill="#5cc89c"/>
<rect x="487.46" y="187.4" width="1" height="12.1" fill="#5cc89c"/>
<rect x="486.16" y="188.5" width="3.6" height="9.9" fill="#5cc89c"/>
<rect x="492.34" y="176.4" width="1" height="14.3" fill="#5cc89c"/>
<rect x="491.04" y="181.9" width="3.6" height="6.6" fill="#5cc89c"/>
<rect x="497.22" y="174.2" width="1" height="14.3" fill="#5cc89c"/>
<rect x="495.92" y="180.8" width="3.6" height="2.2" fill="#5cc89c"/>
<rect x="502.11" y="169.4" width="1" height="23.5" fill="#1e1a1c"/>
<rect x="500.81" y="180.8" width="3.6" height="7.7" fill="#1e1a1c"/>
<rect x="506.99" y="178.6" width="1" height="36.4" fill="#1e1a1c"/>
<rect x="505.69" y="190.7" width="3.6" height="17.6" fill="#1e1a1c"/>
<rect x="511.88" y="205" width="1" height="23.1" fill="#1e1a1c"/>
<rect x="510.58" y="208.3" width="3.6" height="18.7" fill="#1e1a1c"/>
<rect x="516.76" y="218.2" width="1" height="9.9" fill="#5cc89c"/>
<rect x="515.46" y="220.4" width="3.6" height="6.6" fill="#5cc89c"/>
<rect x="521.64" y="213.8" width="1" height="8.8" fill="#5cc89c"/>
<rect x="520.34" y="216" width="3.6" height="4.4" fill="#5cc89c"/>
<rect x="526.53" y="206.1" width="1" height="12.1" fill="#5cc89c"/>
<rect x="525.23" y="210.5" width="3.6" height="6.6" fill="#5cc89c"/>
<rect x="531.41" y="206" width="1" height="18.8" fill="#5cc89c"/>
<rect x="530.11" y="208.3" width="3.6" height="2.2" fill="#5cc89c"/>
<rect x="536.3" y="207.2" width="1" height="20.9" fill="#1e1a1c"/>
<rect x="535" y="208.3" width="3.6" height="14.3" fill="#1e1a1c"/>
<rect x="541.18" y="212.7" width="1" height="17.6" fill="#5cc89c"/>
<rect x="539.88" y="213.8" width="3.6" height="9.9" fill="#5cc89c"/>
<rect x="546.06" y="201.7" width="1" height="13.3" fill="#5cc89c"/>
<rect x="544.76" y="203.9" width="3.6" height="9.9" fill="#5cc89c"/>
<rect x="550.95" y="198.5" width="1" height="13.2" fill="#1e1a1c"/>
<rect x="549.65" y="204" width="3.6" height="2.2" fill="#1e1a1c"/>
<rect x="555.83" y="202.9" width="1" height="15.4" fill="#1e1a1c"/>
<rect x="554.53" y="205.1" width="3.6" height="5.5" fill="#1e1a1c"/>
<rect x="560.72" y="198.5" width="1" height="22" fill="#5cc89c"/>
<rect x="559.42" y="199.6" width="3.6" height="11" fill="#5cc89c"/>
<rect x="565.6" y="189.7" width="1" height="11" fill="#5cc89c"/>
<rect x="564.3" y="195.2" width="3.6" height="4.4" fill="#5cc89c"/>
<rect x="570.48" y="190.8" width="1" height="13.2" fill="#1e1a1c"/>
<rect x="569.18" y="197.4" width="3.6" height="5.5" fill="#1e1a1c"/>
<rect x="575.37" y="198.5" width="1" height="8.8" fill="#1e1a1c"/>
<rect x="574.07" y="201.8" width="3.6" height="2.2" fill="#1e1a1c"/>
<rect x="580.25" y="175.4" width="1" height="35.2" fill="#5cc89c"/>
<rect x="578.95" y="202.5" width="3.6" height="1.5" fill="#5cc89c"/>
<rect x="585.14" y="195.2" width="1" height="13.2" fill="#5cc89c"/>
<rect x="583.84" y="197.9" width="3.6" height="5" fill="#5cc89c"/>
<rect x="590.02" y="190.8" width="1" height="11" fill="#5cc89c"/>
<rect x="588.72" y="193" width="3.6" height="5.5" fill="#5cc89c"/>
<rect x="594.9" y="193" width="1" height="15.4" fill="#1e1a1c"/>
<rect x="593.6" y="195.2" width="3.6" height="12.1" fill="#1e1a1c"/>
<rect x="599.79" y="202.9" width="1" height="12.1" fill="#1e1a1c"/>
<rect x="598.49" y="205.1" width="3.6" height="8.8" fill="#1e1a1c"/>
<rect x="604.67" y="211.7" width="1" height="31.9" fill="#1e1a1c"/>
<rect x="603.37" y="213.9" width="3.6" height="23.1" fill="#1e1a1c"/>
<rect x="609.56" y="229.3" width="1" height="11" fill="#5cc89c"/>
<rect x="608.26" y="232.6" width="3.6" height="3.3" fill="#5cc89c"/>
<rect x="614.44" y="231.5" width="1" height="40.7" fill="#1e1a1c"/>
<rect x="613.14" y="233.7" width="3.6" height="34.1" fill="#1e1a1c"/>
<rect x="619.32" y="260.1" width="1" height="26.9" fill="#5cc89c"/>
<rect x="618.02" y="266.7" width="3.6" height="1.2" fill="#5cc89c"/>
<rect x="624.21" y="262.3" width="1" height="7.7" fill="#1e1a1c"/>
<rect x="622.91" y="265.6" width="3.6" height="1.2" fill="#1e1a1c"/>
<rect x="629.09" y="260.1" width="1" height="9.9" fill="#5cc89c"/>
<rect x="627.79" y="263.4" width="3.6" height="4.4" fill="#5cc89c"/>
<rect x="633.98" y="258.8" width="1" height="8.8" fill="#5cc89c"/>
<rect x="632.68" y="262.1" width="3.6" height="3.3" fill="#5cc89c"/>
<rect x="638.86" y="261" width="1" height="12.1" fill="#1e1a1c"/>
<rect x="637.56" y="262.1" width="3.6" height="4.4" fill="#1e1a1c"/>
<rect x="643.74" y="259.9" width="1" height="13.2" fill="#5cc89c"/>
<rect x="642.44" y="265.4" width="3.6" height="1.2" fill="#5cc89c"/>
<rect x="648.63" y="264.3" width="1" height="17.6" fill="#1e1a1c"/>
<rect x="647.33" y="265.9" width="3.6" height="10.5" fill="#1e1a1c"/>
<rect x="653.51" y="265.4" width="1" height="14.3" fill="#5cc89c"/>
<rect x="652.21" y="266.5" width="3.6" height="11" fill="#5cc89c"/>
<rect x="658.4" y="251.1" width="1" height="18.7" fill="#5cc89c"/>
<rect x="657.1" y="253.3" width="3.6" height="14.3" fill="#5cc89c"/>
<rect x="663.28" y="246.7" width="1" height="11" fill="#1e1a1c"/>
<rect x="661.98" y="252.7" width="3.6" height="1.7" fill="#1e1a1c"/>
<rect x="668.16" y="244.5" width="1" height="14.3" fill="#5cc89c"/>
<rect x="666.86" y="246.7" width="3.6" height="7.7" fill="#5cc89c"/>
<rect x="673.05" y="241.2" width="1" height="9.9" fill="#1e1a1c"/>
<rect x="671.75" y="246" width="3.6" height="4" fill="#1e1a1c"/>
<rect x="677.93" y="237.9" width="1" height="12.1" fill="#5cc89c"/>
<rect x="676.63" y="243.4" width="3.6" height="5.5" fill="#5cc89c"/>
<rect x="682.82" y="240.1" width="1" height="23.1" fill="#1e1a1c"/>
<rect x="681.52" y="243.9" width="3.6" height="17.1" fill="#1e1a1c"/>
<rect x="687.7" y="252.2" width="1" height="25.3" fill="#1e1a1c"/>
<rect x="686.4" y="260" width="3.6" height="14.2" fill="#1e1a1c"/>
<rect x="692.58" y="251.1" width="1" height="24.2" fill="#5cc89c"/>
<rect x="691.28" y="264.3" width="3.6" height="8.8" fill="#5cc89c"/>
<rect x="697.47" y="261" width="1" height="15.4" fill="#1e1a1c"/>
<rect x="696.17" y="265" width="3.6" height="8.1" fill="#1e1a1c"/>
<rect x="702.35" y="269.8" width="1" height="35.2" fill="#1e1a1c"/>
<rect x="701.05" y="272" width="3.6" height="25.3" fill="#1e1a1c"/>
<rect x="707.24" y="286.3" width="1" height="14.3" fill="#5cc89c"/>
<rect x="705.94" y="287.4" width="3.6" height="11" fill="#5cc89c"/>
<rect x="712.12" y="280.8" width="1" height="6.6" fill="#5cc89c"/>
<rect x="710.82" y="284" width="3.6" height="2.3" fill="#5cc89c"/>
<rect x="717" y="280.4" width="1" height="13.2" fill="#1e1a1c"/>
<rect x="715.7" y="283.7" width="3.6" height="8.8" fill="#1e1a1c"/>
<rect x="721.89" y="279.3" width="1" height="12.1" fill="#5cc89c"/>
<rect x="720.59" y="280.4" width="3.6" height="9.9" fill="#5cc89c"/>
<rect x="726.77" y="271.6" width="1" height="11" fill="#5cc89c"/>
<rect x="725.47" y="273.8" width="3.6" height="7.7" fill="#5cc89c"/>
<rect x="731.66" y="273.8" width="1" height="15.4" fill="#1e1a1c"/>
<rect x="730.36" y="274.9" width="3.6" height="7.7" fill="#1e1a1c"/>
<rect x="736.54" y="278.2" width="1" height="11" fill="#1e1a1c"/>
<rect x="735.24" y="280.4" width="3.6" height="7.7" fill="#1e1a1c"/>
<rect x="741.42" y="276" width="1" height="13.2" fill="#5cc89c"/>
<rect x="740.12" y="278.2" width="3.6" height="9.9" fill="#5cc89c"/>
<rect x="746.31" y="272.7" width="1" height="9.9" fill="#5cc89c"/>
<rect x="745.01" y="277.1" width="3.6" height="3.3" fill="#5cc89c"/>
<rect x="751.19" y="277.1" width="1" height="12.1" fill="#1e1a1c"/>
<rect x="749.89" y="278.2" width="3.6" height="5.5" fill="#1e1a1c"/>
<rect x="756.08" y="272.7" width="1" height="13.2" fill="#5cc89c"/>
<rect x="754.78" y="275" width="3.6" height="9.8" fill="#5cc89c"/>
<rect x="760.96" y="254" width="1" height="22" fill="#5cc89c"/>
<rect x="759.66" y="255.1" width="3.6" height="19.9" fill="#5cc89c"/>
<rect x="765.84" y="250.7" width="1" height="12.1" fill="#1e1a1c"/>
<rect x="764.54" y="254" width="3.6" height="3.3" fill="#1e1a1c"/>
<rect x="770.73" y="240.8" width="1" height="16.5" fill="#5cc89c"/>
<rect x="769.43" y="249.6" width="3.6" height="6.6" fill="#5cc89c"/>
<rect x="775.61" y="237.5" width="1" height="13.2" fill="#5cc89c"/>
<rect x="774.31" y="238.6" width="3.6" height="11" fill="#5cc89c"/>
<rect x="780.5" y="237.5" width="1" height="9.9" fill="#1e1a1c"/>
<rect x="779.2" y="238.6" width="3.6" height="2.2" fill="#1e1a1c"/>
<rect x="785.38" y="226.5" width="1" height="24.2" fill="#5cc89c"/>
<rect x="784.08" y="240.8" width="3.6" height="4.4" fill="#5cc89c"/>
<rect x="790.26" y="238.6" width="1" height="20.9" fill="#1e1a1c"/>
<rect x="788.96" y="239.7" width="3.6" height="14.3" fill="#1e1a1c"/>
<rect x="795.15" y="252.9" width="1" height="16.5" fill="#1e1a1c"/>
<rect x="793.85" y="254" width="3.6" height="14.3" fill="#1e1a1c"/>
<rect x="800.03" y="265.8" width="1" height="16.5" fill="#1e1a1c"/>
<rect x="798.73" y="266.9" width="3.6" height="14.3" fill="#1e1a1c"/>
<rect x="804.92" y="268" width="1" height="24.2" fill="#1e1a1c"/>
<rect x="803.62" y="280.8" width="3.6" height="8.1" fill="#1e1a1c"/>
<rect x="809.8" y="286.7" width="1" height="31.9" fill="#1e1a1c"/>
<rect x="808.5" y="288.3" width="3.6" height="14.9" fill="#1e1a1c"/>
<rect x="814.68" y="298.8" width="1" height="8.8" fill="#5cc89c"/>
<rect x="813.38" y="300.6" width="3.6" height="4.4" fill="#5cc89c"/>
<rect x="819.57" y="288.9" width="1" height="13.2" fill="#5cc89c"/>
<rect x="818.27" y="290" width="3.6" height="11" fill="#5cc89c"/>
<rect x="824.45" y="282.3" width="1" height="9.9" fill="#5cc89c"/>
<rect x="823.15" y="283.9" width="3.6" height="7.2" fill="#5cc89c"/>
<rect x="829.34" y="279" width="1" height="12.1" fill="#1e1a1c"/>
<rect x="828.04" y="286" width="3.6" height="1.8" fill="#1e1a1c"/>
<rect x="834.22" y="281.2" width="1" height="13.2" fill="#5cc89c"/>
<rect x="832.92" y="282.3" width="3.6" height="6.6" fill="#5cc89c"/>
<rect x="839.1" y="275.7" width="1" height="8.8" fill="#5cc89c"/>
<rect x="837.8" y="280.1" width="3.6" height="3.3" fill="#5cc89c"/>
<rect x="843.99" y="277.9" width="1" height="8.8" fill="#1e1a1c"/>
<rect x="842.69" y="279" width="3.6" height="2.2" fill="#1e1a1c"/>
<rect x="848.87" y="277.9" width="1" height="11" fill="#5cc89c"/>
<rect x="847.57" y="279.5" width="3.6" height="2.2" fill="#5cc89c"/>
<rect x="853.76" y="265.8" width="1" height="16.5" fill="#5cc89c"/>
<rect x="852.46" y="268" width="3.6" height="13.2" fill="#5cc89c"/>
<rect x="858.64" y="260.3" width="1" height="8.8" fill="#5cc89c"/>
<rect x="857.34" y="262.5" width="3.6" height="5.5" fill="#5cc89c"/>
<rect x="863.52" y="259.2" width="1" height="17.6" fill="#1e1a1c"/>
<rect x="862.22" y="261.4" width="3.6" height="14.3" fill="#1e1a1c"/>
<rect x="868.41" y="273.5" width="1" height="11" fill="#1e1a1c"/>
<rect x="867.11" y="274.6" width="3.6" height="6.6" fill="#1e1a1c"/>
<rect x="873.29" y="279" width="1" height="14.3" fill="#1e1a1c"/>
<rect x="871.99" y="280.8" width="3.6" height="11.4" fill="#1e1a1c"/>
<rect x="878.18" y="288.9" width="1" height="14.3" fill="#1e1a1c"/>
<rect x="876.88" y="291.1" width="3.6" height="6.6" fill="#1e1a1c"/>
<rect x="883.06" y="290" width="1" height="8.8" fill="#5cc89c"/>
<rect x="881.76" y="292.2" width="3.6" height="4.4" fill="#5cc89c"/>
<rect x="887.94" y="289.6" width="1" height="23.4" fill="#1e1a1c"/>
<rect x="886.64" y="291" width="3.6" height="12.4" fill="#1e1a1c"/>
<rect x="892.83" y="295.1" width="1" height="13.8" fill="#5cc89c"/>
<rect x="891.53" y="297.9" width="3.6" height="5.5" fill="#5cc89c"/>
<rect x="897.71" y="293.7" width="1" height="8.3" fill="#1e1a1c"/>
<rect x="896.41" y="297" width="3.6" height="2.8" fill="#1e1a1c"/>
<rect x="902.6" y="296.5" width="1" height="15.1" fill="#1e1a1c"/>
<rect x="901.3" y="297.9" width="3.6" height="12.3" fill="#1e1a1c"/>
<rect x="907.48" y="306.9" width="1" height="8.8" fill="#5cc89c"/>
<rect x="906.18" y="308.9" width="3.6" height="2.7" fill="#5cc89c"/>
<rect x="912.36" y="307.5" width="1" height="22" fill="#1e1a1c"/>
<rect x="911.06" y="307.5" width="3.6" height="11" fill="#1e1a1c"/>
<rect x="917.25" y="315.7" width="1" height="22" fill="#1e1a1c"/>
<rect x="915.95" y="317.1" width="3.6" height="19.3" fill="#1e1a1c"/>
<rect x="922.13" y="332.2" width="1" height="16.5" fill="#1e1a1c"/>
<rect x="920.83" y="333.6" width="3.6" height="2.8" fill="#1e1a1c"/>
<rect x="927.02" y="329.5" width="1" height="8.2" fill="#5cc89c"/>
<rect x="925.72" y="335" width="3.6" height="1.4" fill="#5cc89c"/>
<rect x="931.9" y="326.7" width="1" height="19.3" fill="#1e1a1c"/>
<rect x="930.6" y="333.6" width="3.6" height="11" fill="#1e1a1c"/>
<rect x="936.78" y="341.9" width="1" height="35.7" fill="#1e1a1c"/>
<rect x="935.48" y="343.2" width="3.6" height="20.6" fill="#1e1a1c"/>
<rect x="941.67" y="359.7" width="1" height="19.3" fill="#1e1a1c"/>
<rect x="940.37" y="362.5" width="3.6" height="15.1" fill="#1e1a1c"/>
<rect x="946.55" y="374.8" width="1" height="24.8" fill="#1e1a1c"/>
<rect x="945.25" y="376.2" width="3.6" height="19.3" fill="#1e1a1c"/>
<rect x="951.44" y="381.7" width="1" height="35.8" fill="#5cc89c"/>
<rect x="950.14" y="391" width="3.6" height="4.6" fill="#5cc89c"/>
<rect x="956.32" y="380.4" width="1" height="17.6" fill="#5cc89c"/>
<rect x="955.02" y="383.7" width="3.6" height="6.6" fill="#5cc89c"/>
<rect x="961.2" y="370.4" width="1" height="18.8" fill="#5cc89c"/>
<rect x="959.9" y="377" width="3.6" height="6.7" fill="#5cc89c"/>
<rect x="966.09" y="344" width="1" height="46.3" fill="#5cc89c"/>
<rect x="964.79" y="346.2" width="3.6" height="32" fill="#5cc89c"/>
<rect x="970.97" y="336.3" width="1" height="12.1" fill="#5cc89c"/>
<rect x="969.67" y="340.7" width="3.6" height="5.5" fill="#5cc89c"/>
<rect x="975.86" y="337.4" width="1" height="9.9" fill="#1e1a1c"/>
<rect x="974.56" y="340.2" width="3.6" height="3.1" fill="#1e1a1c"/>
<rect x="980.74" y="328.6" width="1" height="15.4" fill="#5cc89c"/>
<rect x="979.44" y="330.8" width="3.6" height="10.3" fill="#5cc89c"/>
<rect x="985.62" y="315.3" width="1" height="16.6" fill="#5cc89c"/>
<rect x="984.32" y="319.8" width="3.6" height="11" fill="#5cc89c"/>
<rect x="990.51" y="307.6" width="1" height="18.8" fill="#1e1a1c"/>
<rect x="989.21" y="320.9" width="3.6" height="4.4" fill="#1e1a1c"/>
<rect x="995.39" y="319.8" width="1" height="8.8" fill="#5cc89c"/>
<rect x="994.09" y="324.2" width="3.6" height="1.2" fill="#5cc89c"/>
<rect x="1000.28" y="299.9" width="1" height="41.9" fill="#1e1a1c"/>
<rect x="998.98" y="325.3" width="3.6" height="4.4" fill="#1e1a1c"/>
<rect x="1005.16" y="327.5" width="1" height="9.9" fill="#1e1a1c"/>
<rect x="1003.86" y="329.7" width="3.6" height="4.4" fill="#1e1a1c"/>
<polygon points="99.2,137 106.2,137 102.7,142.1" fill="#d81f45"/>
<polygon points="177.4,161.1 184.4,161.1 180.9,166.2" fill="#d81f45"/>
<polygon points="366.9,96.7 373.9,96.7 370.4,101.8" fill="#d81f45"/>
<polygon points="499.2,158.9 506.2,158.9 502.7,164" fill="#d81f45"/>
<polygon points="577.2,171.8 584.2,171.8 580.7,176.9" fill="#d81f45"/>
<polygon points="674.7,227.7 681.7,227.7 678.2,232.8" fill="#d81f45"/>
<polygon points="781.8,219.6 788.8,219.6 785.3,224.7" fill="#d81f45"/>
<polygon points="855.4,247.9 862.4,247.9 858.9,253" fill="#d81f45"/>
<polygon points="44.8,265.6 52.4,265.6 48.6,259" fill="#2b5ad6"/>
<polygon points="133.3,230.1 140.9,230.1 137.1,223.5" fill="#2b5ad6"/>
<polygon points="259.6,269.9 267.2,269.9 263.4,263.3" fill="#2b5ad6"/>
<polygon points="537.9,241.3 545.5,241.3 541.7,234.7" fill="#2b5ad6"/>
<polygon points="616,294.3 623.6,294.3 619.8,287.7" fill="#2b5ad6"/>
<polygon points="699,313.8 706.6,313.8 702.8,307.2" fill="#2b5ad6"/>
<polygon points="806.1,327.4 813.7,327.4 809.9,320.8" fill="#2b5ad6"/>
<polygon points="948.2,426.3 955.8,426.3 952,419.7" fill="#2b5ad6"/>
<rect x="0" y="103.9" width="1222" height="1.6" fill="#8a6a6c"/>
<rect x="0" y="118.6" width="1222" height="1.4" fill="#4e3234"/>
<rect x="0" y="388.8" width="1222" height="1.4" fill="#3a4150"/>
<rect x="0" y="403.6" width="1222" height="1.4" fill="#3a4150"/>
<line x1="1.7" y1="169.4" x2="1222" y2="169.4" stroke="#111" stroke-width="1.9" stroke-dasharray="7.2 8.15"/>
<line x1="1.7" y1="249.4" x2="1222" y2="249.4" stroke="#111" stroke-width="1.9" stroke-dasharray="7.2 8.15"/>
<line x1="1.7" y1="308.0" x2="1222" y2="308.0" stroke="#111" stroke-width="1.9" stroke-dasharray="7.2 8.15"/>
<line x1="1.7" y1="358.5" x2="1222" y2="358.5" stroke="#111" stroke-width="1.9" stroke-dasharray="7.2 8.15"/>
<line x1="2" y1="334.5" x2="1222" y2="334.5" stroke="#8a8a8a" stroke-width="1" stroke-dasharray="1 1.2"/>
<polygon points="321.6,91.8 1073.5,320.6 1009.5,439 312.1,165.9" fill="none" stroke="#111" stroke-width="1.8" stroke-linejoin="miter"/>
<path d="M1009.6,334.3 C1020,336 1032,330 1040,309 C1050,283 1062,225 1072,124" fill="none" stroke="#111" stroke-width="2.2"/>
<path d="M1061.8,134.4 L1071.9,123.5 L1083.8,134.4" fill="none" stroke="#111" stroke-width="2.2" stroke-linejoin="miter"/>
<rect x="0" y="0" width="2.2" height="545" fill="#1a1a1a"/>
<rect x="1224.5" y="0.9" width="40" height="18.6" fill="#fff" stroke="#f0f0f0" stroke-width="1"/>
</svg>
<div style="position:absolute;left:7.7px;top:1.950000000000001px;height:16.4px;line-height:16.4px;font-size:8.2px;font-weight:400;color:#1e1e1e;white-space:pre;-webkit-text-stroke:0.2px #1e1e1e;">C98 / TetherUS · 8h · BINANCE</div><div style="position:absolute;left:7.7px;top:13.8px;height:16.4px;line-height:16.4px;font-size:8.2px;font-weight:400;color:#1e1e1e;white-space:pre;-webkit-text-stroke:0.2px #1e1e1e;">VRVP (Number Of Rows, 70, Up/Down)</div><div style="position:absolute;left:7.7px;top:25.650000000000002px;height:16.4px;line-height:16.4px;font-size:8.2px;font-weight:400;color:#1e1e1e;white-space:pre;-webkit-text-stroke:0.2px #1e1e1e;">SMA (100, close) <span style="color:#e0b25a">0.0500</span></div><div style="position:absolute;left:7.7px;top:37.5px;height:16.4px;line-height:16.4px;font-size:8.2px;font-weight:400;color:#1e1e1e;white-space:pre;-webkit-text-stroke:0.2px #1e1e1e;">Pivot High Low Points (10, 10)</div><div style="position:absolute;left:7.7px;top:49.349999999999994px;height:16.4px;line-height:16.4px;font-size:8.2px;font-weight:400;color:#1e1e1e;white-space:pre;-webkit-text-stroke:0.2px #1e1e1e;">Vol · C98 &nbsp;3.26M</div><div style="position:absolute;left:598px;width:400px;text-align:center;top:101.5px;height:21.8px;line-height:21.8px;font-size:10.9px;font-weight:400;color:#33262a;-webkit-text-stroke:0.2px #33262a;">Resistance Zone</div><div style="position:absolute;left:407px;width:400px;text-align:center;top:386.5px;height:21.8px;line-height:21.8px;font-size:10.9px;font-weight:400;color:#232a3a;-webkit-text-stroke:0.2px #232a3a;">Support Zone</div><div style="position:absolute;left:665.4px;width:400px;text-align:center;top:207.4px;height:22px;line-height:22px;font-size:11px;font-weight:700;color:#1a1a1a;">MA 100</div><div style="position:absolute;left:359px;top:264px;width:151px;height:22.3px;border:1px solid #111;background:#fff"></div><div style="position:absolute;left:236px;width:400px;text-align:center;top:260.5px;height:31.6px;line-height:31.6px;font-size:15.8px;font-weight:700;color:#161616;">Broadening Wedge</div><div style="position:absolute;left:1228px;top:44.599999999999994px;height:16.4px;line-height:16.4px;font-size:8.2px;font-weight:400;color:#2a2a2a;white-space:pre;transform:scale(1,1.12);transform-origin:0 50%;-webkit-text-stroke:0.25px #2a2a2a;">0.0900</div><div style="position:absolute;left:1228px;top:65.6px;height:16.4px;line-height:16.4px;font-size:8.2px;font-weight:400;color:#2a2a2a;white-space:pre;transform:scale(1,1.12);transform-origin:0 50%;-webkit-text-stroke:0.25px #2a2a2a;">0.0850</div><div style="position:absolute;left:1228px;top:88.8px;height:16.4px;line-height:16.4px;font-size:8.2px;font-weight:400;color:#2a2a2a;white-space:pre;transform:scale(1,1.12);transform-origin:0 50%;-webkit-text-stroke:0.25px #2a2a2a;">0.0800</div><div style="position:absolute;left:1228px;top:112.6px;height:16.4px;line-height:16.4px;font-size:8.2px;font-weight:400;color:#2a2a2a;white-space:pre;transform:scale(1,1.12);transform-origin:0 50%;-webkit-text-stroke:0.25px #2a2a2a;">0.0750</div><div style="position:absolute;left:1228px;top:144.5px;height:16.4px;line-height:16.4px;font-size:8.2px;font-weight:400;color:#2a2a2a;white-space:pre;transform:scale(1,1.12);transform-origin:0 50%;-webkit-text-stroke:0.25px #2a2a2a;">0.0690</div><div style="position:absolute;left:1228px;top:191.8px;height:16.4px;line-height:16.4px;font-size:8.2px;font-weight:400;color:#2a2a2a;white-space:pre;transform:scale(1,1.12);transform-origin:0 50%;-webkit-text-stroke:0.25px #2a2a2a;">0.0610</div><div style="position:absolute;left:1228px;top:217.3px;height:16.4px;line-height:16.4px;font-size:8.2px;font-weight:400;color:#2a2a2a;white-space:pre;transform:scale(1,1.12);transform-origin:0 50%;-webkit-text-stroke:0.25px #2a2a2a;">0.0570</div><div style="position:absolute;left:1228px;top:274.3px;height:16.4px;line-height:16.4px;font-size:8.2px;font-weight:400;color:#2a2a2a;white-space:pre;transform:scale(1,1.12);transform-origin:0 50%;-webkit-text-stroke:0.25px #2a2a2a;">0.0490</div><div style="position:absolute;left:1228px;top:381.1px;height:16.4px;line-height:16.4px;font-size:8.2px;font-weight:400;color:#2a2a2a;white-space:pre;transform:scale(1,1.12);transform-origin:0 50%;-webkit-text-stroke:0.25px #2a2a2a;">0.0370</div><div style="position:absolute;left:1228px;top:401.3px;height:16.4px;line-height:16.4px;font-size:8.2px;font-weight:400;color:#2a2a2a;white-space:pre;transform:scale(1,1.12);transform-origin:0 50%;-webkit-text-stroke:0.25px #2a2a2a;">0.0350</div><div style="position:absolute;left:1228px;top:424.5px;height:16.4px;line-height:16.4px;font-size:8.2px;font-weight:400;color:#2a2a2a;white-space:pre;transform:scale(1,1.12);transform-origin:0 50%;-webkit-text-stroke:0.25px #2a2a2a;">0.0330</div><div style="position:absolute;left:1228px;top:447.6px;height:16.4px;line-height:16.4px;font-size:8.2px;font-weight:400;color:#2a2a2a;white-space:pre;transform:scale(1,1.12);transform-origin:0 50%;-webkit-text-stroke:0.25px #2a2a2a;">0.0310</div><div style="position:absolute;left:1228px;top:472.7px;height:16.4px;line-height:16.4px;font-size:8.2px;font-weight:400;color:#2a2a2a;white-space:pre;transform:scale(1,1.12);transform-origin:0 50%;-webkit-text-stroke:0.25px #2a2a2a;">0.0290</div><div style="position:absolute;left:1228px;top:494.1px;height:16.4px;line-height:16.4px;font-size:8.2px;font-weight:400;color:#2a2a2a;white-space:pre;transform:scale(1,1.12);transform-origin:0 50%;-webkit-text-stroke:0.25px #2a2a2a;">0.0274</div><div style="position:absolute;left:1228px;top:516.3px;height:16.4px;line-height:16.4px;font-size:8.2px;font-weight:400;color:#2a2a2a;white-space:pre;transform:scale(1,1.12);transform-origin:0 50%;-webkit-text-stroke:0.25px #2a2a2a;">0.0259</div><div style="position:absolute;left:1222.5px;top:163.5px;width:34.5px;height:12px;background:#111"></div><div style="position:absolute;left:1228px;top:162.70000000000002px;height:16.4px;line-height:16.4px;font-size:8.2px;font-weight:400;color:#fff;white-space:pre;transform:scale(1,1.12);transform-origin:0 50%;">0.0659</div><div style="position:absolute;left:1222.5px;top:243.9px;width:34.5px;height:12px;background:#111"></div><div style="position:absolute;left:1228px;top:243.10000000000002px;height:16.4px;line-height:16.4px;font-size:8.2px;font-weight:400;color:#fff;white-space:pre;transform:scale(1,1.12);transform-origin:0 50%;">0.0533</div><div style="position:absolute;left:1222.5px;top:302.1px;width:34.5px;height:12px;background:#111"></div><div style="position:absolute;left:1228px;top:301.3px;height:16.4px;line-height:16.4px;font-size:8.2px;font-weight:400;color:#fff;white-space:pre;transform:scale(1,1.12);transform-origin:0 50%;">0.0457</div><div style="position:absolute;left:1222.5px;top:352.70000000000005px;width:34.5px;height:12px;background:#111"></div><div style="position:absolute;left:1228px;top:351.90000000000003px;height:16.4px;line-height:16.4px;font-size:8.2px;font-weight:400;color:#fff;white-space:pre;transform:scale(1,1.12);transform-origin:0 50%;">0.0399</div><div style="position:absolute;left:1222.6px;top:329px;width:39.4px;height:20.5px;background:#131722"></div><div style="position:absolute;left:1228px;top:327.7px;height:16.4px;line-height:16.4px;font-size:8.2px;font-weight:400;color:#fff;white-space:pre;transform:scale(1,1.12);transform-origin:0 50%;">0.0426</div><div style="position:absolute;left:1228px;top:337.70000000000005px;height:16.8px;line-height:16.8px;font-size:8.4px;font-weight:400;color:#e8e8e8;white-space:pre;transform:scale(1,1.1);transform-origin:0 50%;">05:57:00</div><div style="position:absolute;left:1231px;top:4.5px;height:14.8px;line-height:14.8px;font-size:7.4px;font-weight:400;color:#333;white-space:pre;transform:scale(1,1.1);transform-origin:0 50%;">USDT</div><div style="position:absolute;left:-63.599999999999994px;width:400px;text-align:center;top:530.9px;height:16.4px;line-height:16.4px;font-size:8.2px;font-weight:400;color:#2a2a2a;transform:scale(1,1.14);transform-origin:50% 50%;-webkit-text-stroke:0.25px #2a2a2a;">28</div><div style="position:absolute;left:-19.700000000000017px;width:400px;text-align:center;top:530.9px;height:16.4px;line-height:16.4px;font-size:8.2px;font-weight:400;color:#2a2a2a;transform:scale(1,1.14);transform-origin:50% 50%;-webkit-text-stroke:0.25px #2a2a2a;">May</div><div style="position:absolute;left:24.19999999999999px;width:400px;text-align:center;top:530.9px;height:16.4px;line-height:16.4px;font-size:8.2px;font-weight:400;color:#2a2a2a;transform:scale(1,1.14);transform-origin:50% 50%;-webkit-text-stroke:0.25px #2a2a2a;">4</div><div style="position:absolute;left:68.5px;width:400px;text-align:center;top:530.9px;height:16.4px;line-height:16.4px;font-size:8.2px;font-weight:400;color:#2a2a2a;transform:scale(1,1.14);transform-origin:50% 50%;-webkit-text-stroke:0.25px #2a2a2a;">7</div><div style="position:absolute;left:112.40000000000003px;width:400px;text-align:center;top:530.9px;height:16.4px;line-height:16.4px;font-size:8.2px;font-weight:400;color:#2a2a2a;transform:scale(1,1.14);transform-origin:50% 50%;-webkit-text-stroke:0.25px #2a2a2a;">10</div><div style="position:absolute;left:156.60000000000002px;width:400px;text-align:center;top:530.9px;height:16.4px;line-height:16.4px;font-size:8.2px;font-weight:400;color:#2a2a2a;transform:scale(1,1.14);transform-origin:50% 50%;-webkit-text-stroke:0.25px #2a2a2a;">13</div><div style="position:absolute;left:199.90000000000003px;width:400px;text-align:center;top:530.9px;height:16.4px;line-height:16.4px;font-size:8.2px;font-weight:400;color:#2a2a2a;transform:scale(1,1.14);transform-origin:50% 50%;-webkit-text-stroke:0.25px #2a2a2a;">16</div><div style="position:absolute;left:243.90000000000003px;width:400px;text-align:center;top:530.9px;height:16.4px;line-height:16.4px;font-size:8.2px;font-weight:400;color:#2a2a2a;transform:scale(1,1.14);transform-origin:50% 50%;-webkit-text-stroke:0.25px #2a2a2a;">19</div><div style="position:absolute;left:287.8px;width:400px;text-align:center;top:530.9px;height:16.4px;line-height:16.4px;font-size:8.2px;font-weight:400;color:#2a2a2a;transform:scale(1,1.14);transform-origin:50% 50%;-webkit-text-stroke:0.25px #2a2a2a;">22</div><div style="position:absolute;left:332.0px;width:400px;text-align:center;top:530.9px;height:16.4px;line-height:16.4px;font-size:8.2px;font-weight:400;color:#2a2a2a;transform:scale(1,1.14);transform-origin:50% 50%;-webkit-text-stroke:0.25px #2a2a2a;">25</div><div style="position:absolute;left:376.0px;width:400px;text-align:center;top:530.9px;height:16.4px;line-height:16.4px;font-size:8.2px;font-weight:400;color:#2a2a2a;transform:scale(1,1.14);transform-origin:50% 50%;-webkit-text-stroke:0.25px #2a2a2a;">28</div><div style="position:absolute;left:434.6px;width:400px;text-align:center;top:530.9px;height:16.4px;line-height:16.4px;font-size:8.2px;font-weight:400;color:#2a2a2a;transform:scale(1,1.14);transform-origin:50% 50%;-webkit-text-stroke:0.25px #2a2a2a;">Jun</div><div style="position:absolute;left:478.5px;width:400px;text-align:center;top:530.9px;height:16.4px;line-height:16.4px;font-size:8.2px;font-weight:400;color:#2a2a2a;transform:scale(1,1.14);transform-origin:50% 50%;-webkit-text-stroke:0.25px #2a2a2a;">4</div><div style="position:absolute;left:521.7px;width:400px;text-align:center;top:530.9px;height:16.4px;line-height:16.4px;font-size:8.2px;font-weight:400;color:#2a2a2a;transform:scale(1,1.14);transform-origin:50% 50%;-webkit-text-stroke:0.25px #2a2a2a;">7</div><div style="position:absolute;left:566.6px;width:400px;text-align:center;top:530.9px;height:16.4px;line-height:16.4px;font-size:8.2px;font-weight:400;color:#2a2a2a;transform:scale(1,1.14);transform-origin:50% 50%;-webkit-text-stroke:0.25px #2a2a2a;">10</div><div style="position:absolute;left:610.6px;width:400px;text-align:center;top:530.9px;height:16.4px;line-height:16.4px;font-size:8.2px;font-weight:400;color:#2a2a2a;transform:scale(1,1.14);transform-origin:50% 50%;-webkit-text-stroke:0.25px #2a2a2a;">13</div><div style="position:absolute;left:654.4px;width:400px;text-align:center;top:530.9px;height:16.4px;line-height:16.4px;font-size:8.2px;font-weight:400;color:#2a2a2a;transform:scale(1,1.14);transform-origin:50% 50%;-webkit-text-stroke:0.25px #2a2a2a;">16</div><div style="position:absolute;left:697.6px;width:400px;text-align:center;top:530.9px;height:16.4px;line-height:16.4px;font-size:8.2px;font-weight:400;color:#2a2a2a;transform:scale(1,1.14);transform-origin:50% 50%;-webkit-text-stroke:0.25px #2a2a2a;">19</div><div style="position:absolute;left:741.5px;width:400px;text-align:center;top:530.9px;height:16.4px;line-height:16.4px;font-size:8.2px;font-weight:400;color:#2a2a2a;transform:scale(1,1.14);transform-origin:50% 50%;-webkit-text-stroke:0.25px #2a2a2a;">22</div><div style="position:absolute;left:785.4px;width:400px;text-align:center;top:530.9px;height:16.4px;line-height:16.4px;font-size:8.2px;font-weight:400;color:#2a2a2a;transform:scale(1,1.14);transform-origin:50% 50%;-webkit-text-stroke:0.25px #2a2a2a;">25</div><div style="position:absolute;left:829.3999999999999px;width:400px;text-align:center;top:530.9px;height:16.4px;line-height:16.4px;font-size:8.2px;font-weight:400;color:#2a2a2a;transform:scale(1,1.14);transform-origin:50% 50%;-webkit-text-stroke:0.25px #2a2a2a;">28</div><div style="position:absolute;left:873.3px;width:400px;text-align:center;top:530.9px;height:16.4px;line-height:16.4px;font-size:8.2px;font-weight:400;color:#2a2a2a;transform:scale(1,1.14);transform-origin:50% 50%;-webkit-text-stroke:0.25px #2a2a2a;">Jul</div><div style="position:absolute;left:917.1999999999998px;width:400px;text-align:center;top:530.9px;height:16.4px;line-height:16.4px;font-size:8.2px;font-weight:400;color:#2a2a2a;transform:scale(1,1.14);transform-origin:50% 50%;-webkit-text-stroke:0.25px #2a2a2a;">4</div><div style="position:absolute;left:961.0999999999999px;width:400px;text-align:center;top:530.9px;height:16.4px;line-height:16.4px;font-size:8.2px;font-weight:400;color:#2a2a2a;transform:scale(1,1.14);transform-origin:50% 50%;-webkit-text-stroke:0.25px #2a2a2a;">7</div><div style="position:absolute;left:1005.0999999999999px;width:400px;text-align:center;top:530.9px;height:16.4px;line-height:16.4px;font-size:8.2px;font-weight:400;color:#2a2a2a;transform:scale(1,1.14);transform-origin:50% 50%;-webkit-text-stroke:0.25px #2a2a2a;">10</div><div style="position:absolute;left:-194.9px;width:400px;text-align:center;top:529.7px;height:17.0px;line-height:17.0px;font-size:8.5px;font-weight:700;color:#222;transform:scale(1,1.15);transform-origin:50% 50%;">D</div><div style="position:absolute;left:-179.8px;width:400px;text-align:center;top:529.7px;height:17.0px;line-height:17.0px;font-size:8.5px;font-weight:700;color:#222;transform:scale(1,1.15);transform-origin:50% 50%;">D</div><div style="position:absolute;left:-151.2px;width:400px;text-align:center;top:529.7px;height:17.0px;line-height:17.0px;font-size:8.5px;font-weight:700;color:#222;transform:scale(1,1.15);transform-origin:50% 50%;">4D</div><div style="position:absolute;left:-136.1px;width:400px;text-align:center;top:529.7px;height:17.0px;line-height:17.0px;font-size:8.5px;font-weight:700;color:#222;transform:scale(1,1.15);transform-origin:50% 50%;">D</div><div style="position:absolute;left:-108.5px;width:400px;text-align:center;top:529.7px;height:17.0px;line-height:17.0px;font-size:8.5px;font-weight:700;color:#222;transform:scale(1,1.15);transform-origin:50% 50%;">4D</div>
</body></html>
